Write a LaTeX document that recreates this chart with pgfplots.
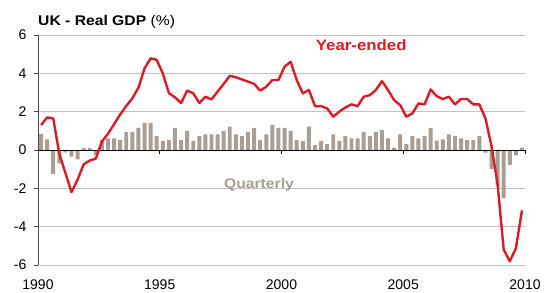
\documentclass[border=0pt]{standalone}
\usepackage{pgfplots}
\pgfplotsset{compat=1.18}
\usepackage{pgfplotstable}
\usepackage{fontspec}
\setmainfont{Liberation Sans}
\newfontfamily\lbl[FakeStretch=1.12]{Liberation Sans}
\definecolor{gdpred}{RGB}{218,28,38}
\definecolor{gdpbar}{RGB}{168,158,148}
\definecolor{gridgrey}{RGB}{195,195,195}

% i = quarter index (0 = 1990 Q1 ... 79 = 2009 Q4); q = quarterly %; y = year-ended %
\pgfplotstableread{
i q y
0 0.83 1.3
1 0.56 1.7
2 -1.25 1.65
3 -0.70 -0.2
4 -0.12 -1.2
5 -0.35 -2.2
6 -0.49 -1.55
7 0.10 -0.75
8 0.10 -0.55
9 -0.28 -0.45
10 0.52 0.45
11 0.60 0.85
12 0.60 1.35
13 0.52 1.85
14 0.95 2.3
15 0.95 2.7
16 1.16 3.25
17 1.42 4.26
18 1.42 4.78
19 0.73 4.7
20 0.47 4.0
21 0.52 2.97
22 1.16 2.75
23 0.52 2.45
24 1.00 3.1
25 0.47 2.96
26 0.73 2.45
27 0.82 2.78
28 0.82 2.64
29 0.82 3.05
30 1.00 3.45
31 1.22 3.87
32 0.82 3.8
33 0.73 3.68
34 0.95 3.57
35 1.16 3.45
36 0.52 3.1
37 0.82 3.3
38 1.30 3.65
39 1.16 3.65
40 1.16 4.35
41 1.00 4.6
42 0.52 3.65
43 0.47 2.95
44 1.22 3.13
45 0.26 2.29
46 0.47 2.29
47 0.31 2.17
48 0.82 1.74
49 0.47 2.0
50 0.73 2.22
51 0.60 2.38
52 0.60 2.29
53 0.95 2.78
54 0.73 2.86
55 0.95 3.13
56 1.04 3.59
57 0.60 3.13
58 0.12 2.6
59 0.82 2.34
60 0.31 1.74
61 0.73 1.91
62 0.60 2.43
63 0.73 2.38
64 1.16 3.16
65 0.49 2.81
66 0.56 2.66
67 0.82 2.78
68 0.73 2.38
69 0.60 2.66
70 0.52 2.66
71 0.52 2.38
72 0.73 2.38
73 -0.14 1.65
74 -1.00 0.2
75 -1.90 -1.8
76 -2.52 -5.2
77 -0.78 -5.8
78 -0.28 -5.13
79 0.12 -3.15
}\gdpdata

\begin{document}
\begin{tikzpicture}
\begin{axis}[
  scale only axis, width=487pt, height=230pt,
  xmin=-0.5, xmax=79.5, ymin=-6, ymax=6,
  axis y line*=left, axis x line*=bottom,
  x axis line style={draw=none},
  y axis line style={color=black!70, line width=0.8pt},
  xtick={-0.5,19.5,39.5,59.5,79.5},
  xticklabels={1990,1995,2000,2005,2010},
  xtick style={draw=none},
  ytick={-6,-4,-2,0,2,4,6},
  ymajorgrids, grid style={gridgrey, line width=0.8pt},
  tick align=outside, major tick length=4pt,
  ytick style={black!70, line width=0.8pt},
  tick label style={font=\fontsize{14}{16}\selectfont},
  /pgf/number format/assume math mode=true,
  yticklabel style={inner sep=0pt, xshift=-7.5pt},
  xticklabel style={inner sep=0pt, yshift=-11pt},
  clip=false,
]
\addplot[ybar, bar width=0.65, fill=gdpbar, draw=none] table[x=i, y=q] {\gdpdata};
\draw[black, line width=0.8pt] (axis cs:-0.5,0) -- (axis cs:79.5,0);
\draw[black, line width=0.8pt] (axis cs:19.5,0) -- ++(0pt,-4pt);
\draw[black, line width=0.8pt] (axis cs:39.5,0) -- ++(0pt,-4pt);
\draw[black, line width=0.8pt] (axis cs:59.5,0) -- ++(0pt,-4pt);
\draw[black, line width=0.8pt] (axis cs:79.5,0) -- ++(0pt,-4pt);
\addplot[gdpred, line width=2.4pt, mark=none, line join=round] table[x=i, y=y] {\gdpdata};
\node[gdpred, font=\lbl\bfseries\fontsize{15}{17}\selectfont] at (axis cs:52.6,5.47) {Year-ended};
\node[gdpbar, font=\lbl\bfseries\fontsize{14}{16}\selectfont] at (axis cs:35.8,-1.82) {Quarterly};
\end{axis}
\node[anchor=base west, inner sep=0pt, font=\lbl\fontsize{14}{16}\selectfont] at ([yshift=9.3pt]current axis.north west) {\bfseries UK - Real GDP \mdseries(\%)};
\pgfresetboundingbox
\path ([xshift=-38pt,yshift=-28pt]current axis.south west) rectangle ([xshift=21pt,yshift=35pt]current axis.north east);
\end{tikzpicture}
\end{document}
